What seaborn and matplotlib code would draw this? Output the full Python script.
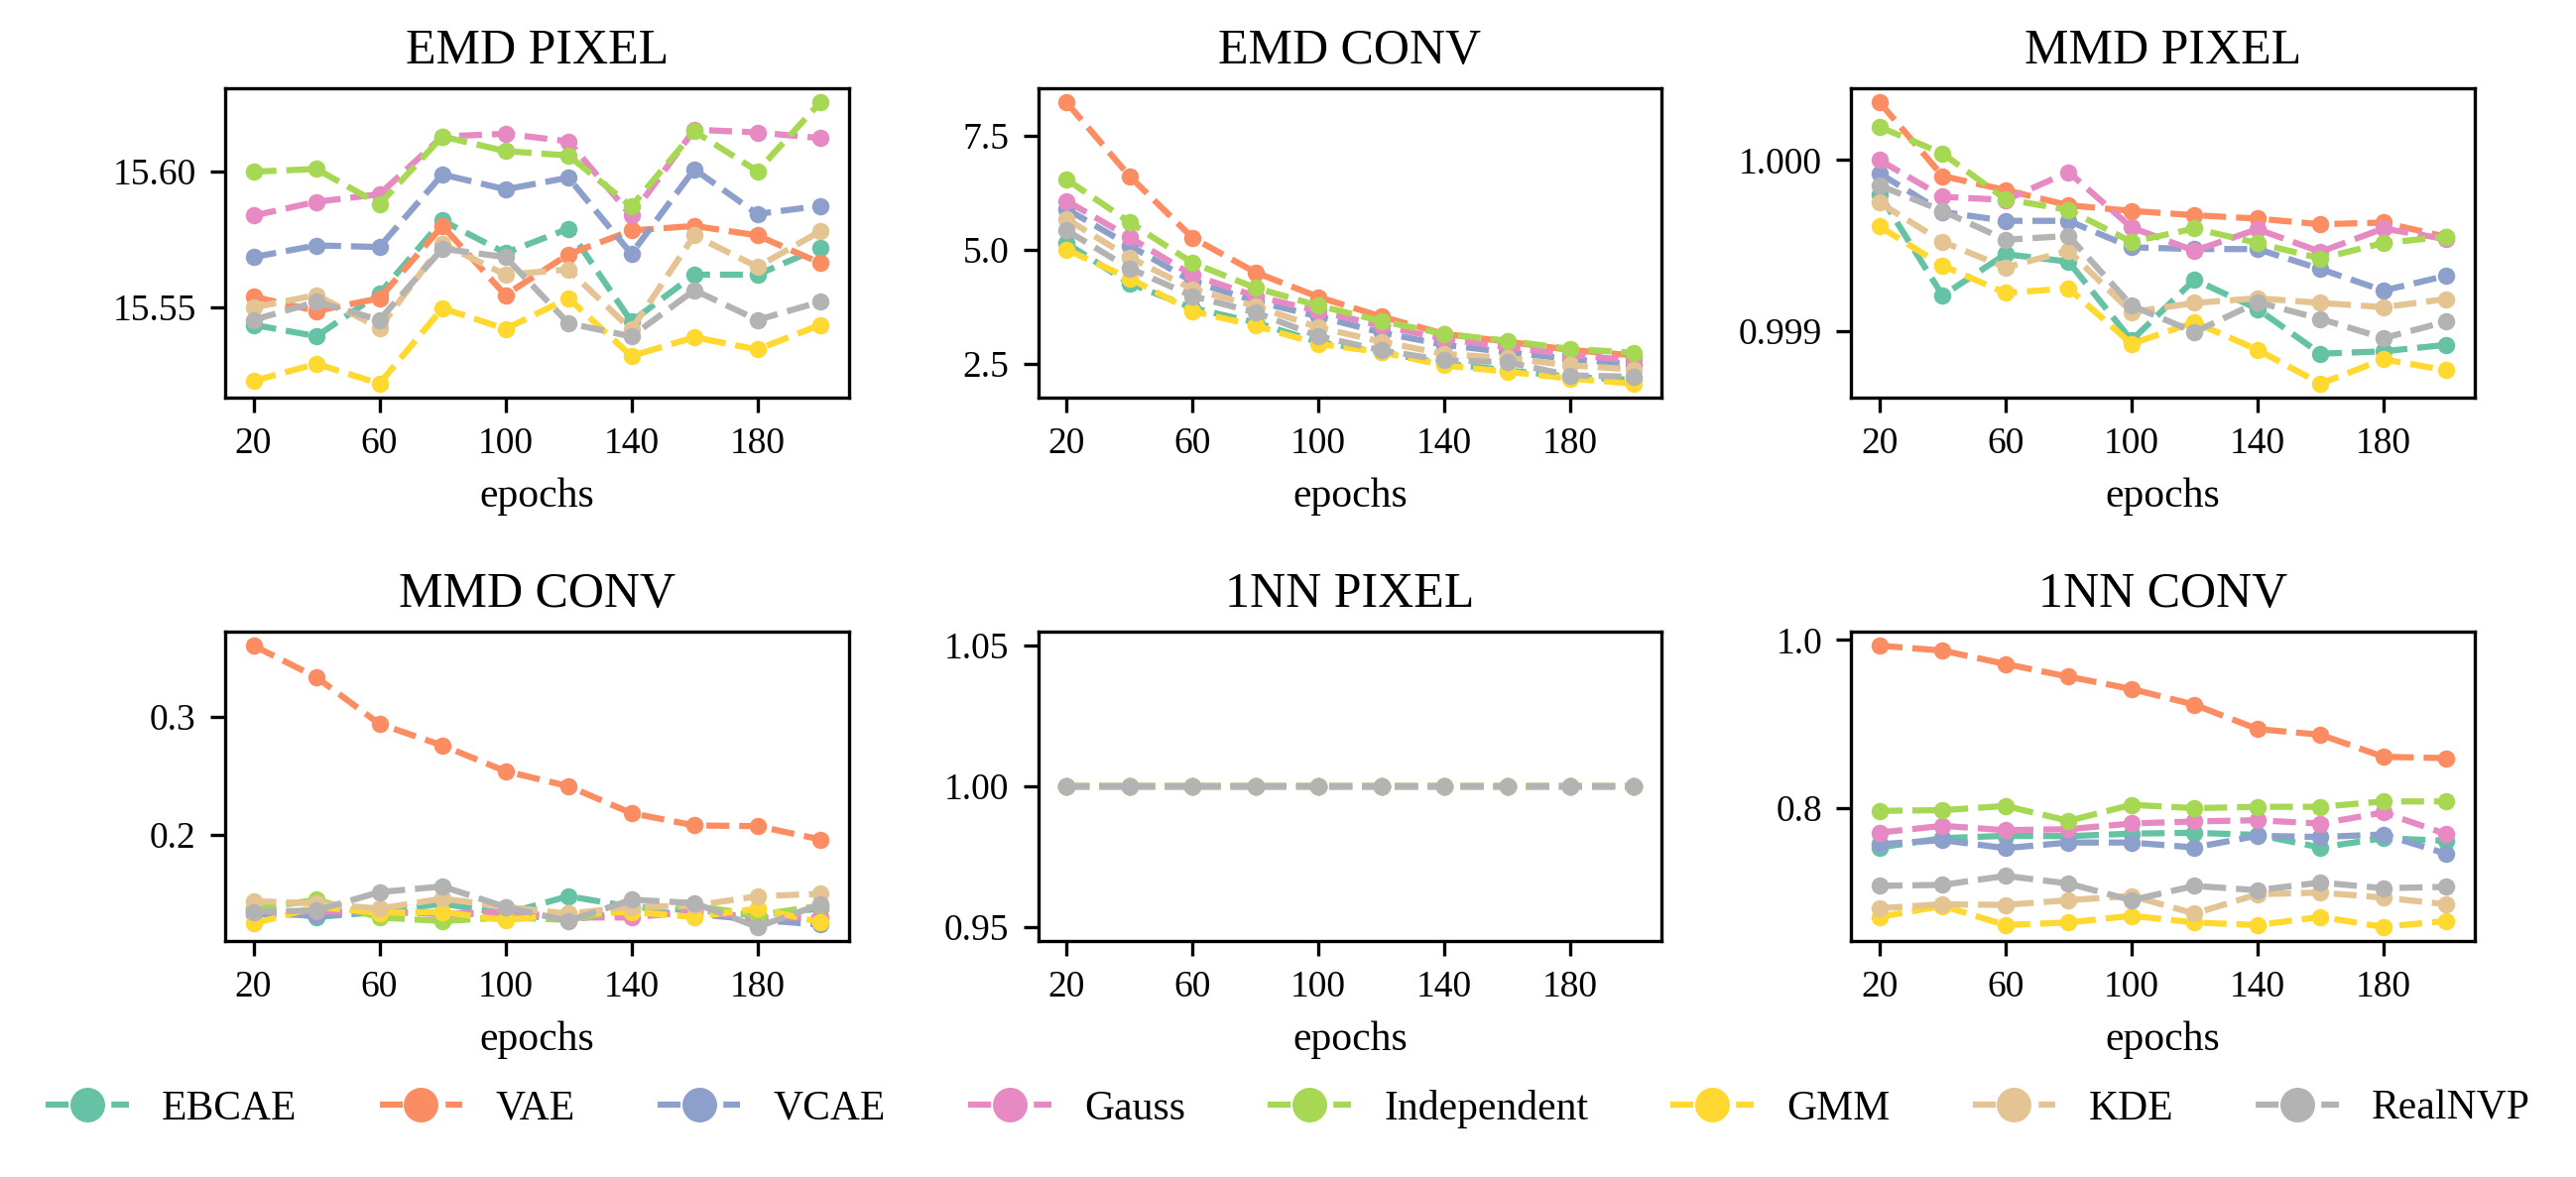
import matplotlib
matplotlib.use("Agg")
import matplotlib.pyplot as plt
import numpy as np
import pandas as pd
import seaborn as sns
from matplotlib.ticker import MaxNLocator, ScalarFormatter

# ---------------- data ----------------
epochs = [20, 40, 60, 80, 100, 120, 140, 160, 180, 200]
x_ticks = [20, 60, 100, 140, 180]
models = ["EBCAE", "VAE", "VCAE", "Gauss", "Independent", "GMM", "KDE", "RealNVP"]
panel_titles = ["EMD PIXEL", "EMD CONV", "MMD PIXEL", "MMD CONV", "1NN PIXEL", "1NN CONV"]

emd_pixel = {
    "EBCAE":       [15.5435, 15.5393, 15.5550, 15.5820, 15.5700, 15.5790, 15.5447, 15.5620, 15.5620, 15.5720],
    "VAE":         [15.5539, 15.5486, 15.5533, 15.5800, 15.5545, 15.5695, 15.5783, 15.5800, 15.5765, 15.5663],
    "VCAE":        [15.5685, 15.5728, 15.5722, 15.5990, 15.5935, 15.5978, 15.5697, 15.6009, 15.5844, 15.5874],
    "Gauss":       [15.5838, 15.5889, 15.5917, 15.6130, 15.6140, 15.6112, 15.5838, 15.6155, 15.6145, 15.6124],
    "Independent": [15.6000, 15.6010, 15.5880, 15.6130, 15.6076, 15.6060, 15.5872, 15.6149, 15.6002, 15.6256],
    "GMM":         [15.5228, 15.5291, 15.5218, 15.5496, 15.5420, 15.5533, 15.5320, 15.5389, 15.5344, 15.5435],
    "KDE":         [15.5499, 15.5545, 15.5423, 15.5734, 15.5620, 15.5639, 15.5417, 15.5765, 15.5649, 15.5780],
    "RealNVP":     [15.5453, 15.5520, 15.5453, 15.5716, 15.5685, 15.5441, 15.5392, 15.5563, 15.5453, 15.5520],
}

emd_conv = {
    "EBCAE":       [5.14, 4.26, 3.72, 3.40, 2.97, 2.75, 2.50, 2.35, 2.21, 2.14],
    "VAE":         [8.23, 6.61, 5.26, 4.50, 3.96, 3.53, 3.15, 2.98, 2.80, 2.68],
    "VCAE":        [5.89, 5.09, 4.30, 3.87, 3.53, 3.18, 2.91, 2.75, 2.60, 2.48],
    "Gauss":       [6.07, 5.27, 4.44, 3.98, 3.65, 3.33, 3.04, 2.86, 2.69, 2.57],
    "Independent": [6.54, 5.60, 4.71, 4.16, 3.77, 3.43, 3.15, 3.00, 2.82, 2.74],
    "GMM":         [5.00, 4.37, 3.65, 3.33, 2.93, 2.75, 2.46, 2.32, 2.17, 2.06],
    "KDE":         [5.67, 4.83, 4.13, 3.76, 3.29, 2.98, 2.71, 2.62, 2.46, 2.37],
    "RealNVP":     [5.42, 4.59, 3.98, 3.62, 3.10, 2.79, 2.57, 2.53, 2.24, 2.21],
}

mmd_pixel = {
    "EBCAE":       [0.999800, 0.999208, 0.999450, 0.999406, 0.998946, 0.999301, 0.999130, 0.998868, 0.998882, 0.998920],
    "VAE":         [1.000338, 0.999907, 0.999825, 0.999736, 0.999703, 0.999678, 0.999658, 0.999625, 0.999635, 0.999551],
    "VCAE":        [0.999922, 0.999697, 0.999645, 0.999645, 0.999490, 0.999480, 0.999480, 0.999363, 0.999237, 0.999324],
    "Gauss":       [1.000000, 0.999786, 0.999767, 0.999930, 0.999606, 0.999470, 0.999596, 0.999464, 0.999600, 0.999538],
    "Independent": [1.000194, 1.000039, 0.999771, 0.999709, 0.999522, 0.999600, 0.999515, 0.999425, 0.999515, 0.999553],
    "GMM":         [0.999612, 0.999383, 0.999223, 0.999250, 0.998926, 0.999052, 0.998891, 0.998693, 0.998835, 0.998771],
    "KDE":         [0.999751, 0.999522, 0.999373, 0.999470, 0.999111, 0.999165, 0.999192, 0.999165, 0.999140, 0.999188],
    "RealNVP":     [0.999852, 0.999703, 0.999534, 0.999557, 0.999150, 0.998994, 0.999169, 0.999072, 0.998959, 0.999056],
}

mmd_conv = {
    "EBCAE":       [0.1375, 0.1304, 0.1346, 0.1417, 0.1332, 0.1480, 0.1390, 0.1360, 0.1320, 0.1375],
    "VAE":         [0.3600, 0.3332, 0.2938, 0.2755, 0.2538, 0.2411, 0.2183, 0.2079, 0.2073, 0.1961],
    "VCAE":        [0.1330, 0.1320, 0.1350, 0.1330, 0.1330, 0.1280, 0.1350, 0.1330, 0.1280, 0.1240],
    "Gauss":       [0.1350, 0.1350, 0.1350, 0.1330, 0.1350, 0.1300, 0.1300, 0.1350, 0.1300, 0.1300],
    "Independent": [0.1370, 0.1450, 0.1300, 0.1270, 0.1300, 0.1280, 0.1370, 0.1400, 0.1320, 0.1400],
    "GMM":         [0.1248, 0.1390, 0.1340, 0.1346, 0.1276, 0.1332, 0.1346, 0.1304, 0.1375, 0.1260],
    "KDE":         [0.1440, 0.1417, 0.1375, 0.1460, 0.1390, 0.1332, 0.1390, 0.1400, 0.1480, 0.1500],
    "RealNVP":     [0.1346, 0.1360, 0.1515, 0.1563, 0.1389, 0.1270, 0.1450, 0.1422, 0.1220, 0.1411],
}

nn_pixel = {
    "EBCAE":       [1.0, 1.0, 1.0, 1.0, 1.0, 1.0, 1.0, 1.0, 1.0, 1.0],
    "VAE":         [1.0, 1.0, 1.0, 1.0, 1.0, 1.0, 1.0, 1.0, 1.0, 1.0],
    "VCAE":        [1.0, 1.0, 1.0, 1.0, 1.0, 1.0, 1.0, 1.0, 1.0, 1.0],
    "Gauss":       [1.0, 1.0, 1.0, 1.0, 1.0, 1.0, 1.0, 1.0, 1.0, 1.0],
    "Independent": [1.0, 1.0, 1.0, 1.0, 1.0, 1.0, 1.0, 1.0, 1.0, 1.0],
    "GMM":         [1.0, 1.0, 1.0, 1.0, 1.0, 1.0, 1.0, 1.0, 1.0, 1.0],
    "KDE":         [1.0, 1.0, 1.0, 1.0, 1.0, 1.0, 1.0, 1.0, 1.0, 1.0],
    "RealNVP":     [1.0, 1.0, 1.0, 1.0, 1.0, 1.0, 1.0, 1.0, 1.0, 1.0],
}

nn_conv = {
    "EBCAE":       [0.7525, 0.7636, 0.7664, 0.7660, 0.7690, 0.7700, 0.7675, 0.7525, 0.7636, 0.7604],
    "VAE":         [0.9932, 0.9873, 0.9713, 0.9562, 0.9415, 0.9228, 0.8937, 0.8870, 0.8607, 0.8590],
    "VCAE":        [0.7564, 0.7612, 0.7517, 0.7584, 0.7584, 0.7525, 0.7664, 0.7650, 0.7680, 0.7450],
    "Gauss":       [0.7703, 0.7783, 0.7731, 0.7743, 0.7811, 0.7835, 0.7850, 0.7810, 0.7942, 0.7684],
    "Independent": [0.7962, 0.7970, 0.8020, 0.7843, 0.8034, 0.7994, 0.8010, 0.8010, 0.8074, 0.8074],
    "GMM":         [0.6697, 0.6828, 0.6600, 0.6630, 0.6710, 0.6630, 0.6600, 0.6697, 0.6577, 0.6649],
    "KDE":         [0.6800, 0.6848, 0.6840, 0.6896, 0.6947, 0.6736, 0.6967, 0.6987, 0.6927, 0.6848],
    "RealNVP":     [0.7067, 0.7079, 0.7186, 0.7095, 0.6896, 0.7067, 0.7015, 0.7107, 0.7039, 0.7055],
}

panels = [emd_pixel, emd_conv, mmd_pixel, mmd_conv, nn_pixel, nn_conv]

# ---------------- style ----------------
plt.rcParams["font.family"] = "serif"
plt.rcParams["font.serif"] = ["Liberation Serif", "DejaVu Serif"]
plt.rcParams["font.size"] = 10
plt.rcParams["axes.titlesize"] = 12
plt.rcParams["axes.labelsize"] = 10
plt.rcParams["xtick.labelsize"] = 9
plt.rcParams["ytick.labelsize"] = 9
plt.rcParams["legend.fontsize"] = 10

palette = sns.color_palette("Set2", len(models))

fig, axes = plt.subplots(2, 3, figsize=(2597 / 300, 1187 / 300), dpi=300)
fig.subplots_adjust(left=0.0874, right=0.9607, top=0.925, bottom=0.2005,
                    wspace=0.304, hspace=0.756)

for ax, title, panel in zip(axes.flat, panel_titles, panels):
    rows = []
    for m in models:
        for e, v in zip(epochs, panel[m]):
            rows.append({"epochs": e, "value": v, "model": m})
    df = pd.DataFrame(rows)
    sns.lineplot(data=df, x="epochs", y="value", hue="model", hue_order=models,
                 palette=palette, marker="o", linestyle="--", markersize=4.2,
                 markeredgewidth=0, linewidth=1.5, errorbar=None, legend=False, ax=ax)
    ax.set_title(title)
    ax.set_xlabel("epochs")
    ax.set_ylabel("")
    ax.set_xticks(x_ticks)
    ax.yaxis.set_major_locator(MaxNLocator(nbins=3, steps=[1, 2, 2.5, 5, 10]))
    fmt = ScalarFormatter(useOffset=False)
    ax.yaxis.set_major_formatter(fmt)

handles = axes[0, 0].get_lines()[:len(models)]
fig.legend(handles, models, loc="center", bbox_to_anchor=(0.5, 0.058), ncol=len(models),
           frameon=False, markerscale=2)

fig.savefig("out.png", dpi=300)
